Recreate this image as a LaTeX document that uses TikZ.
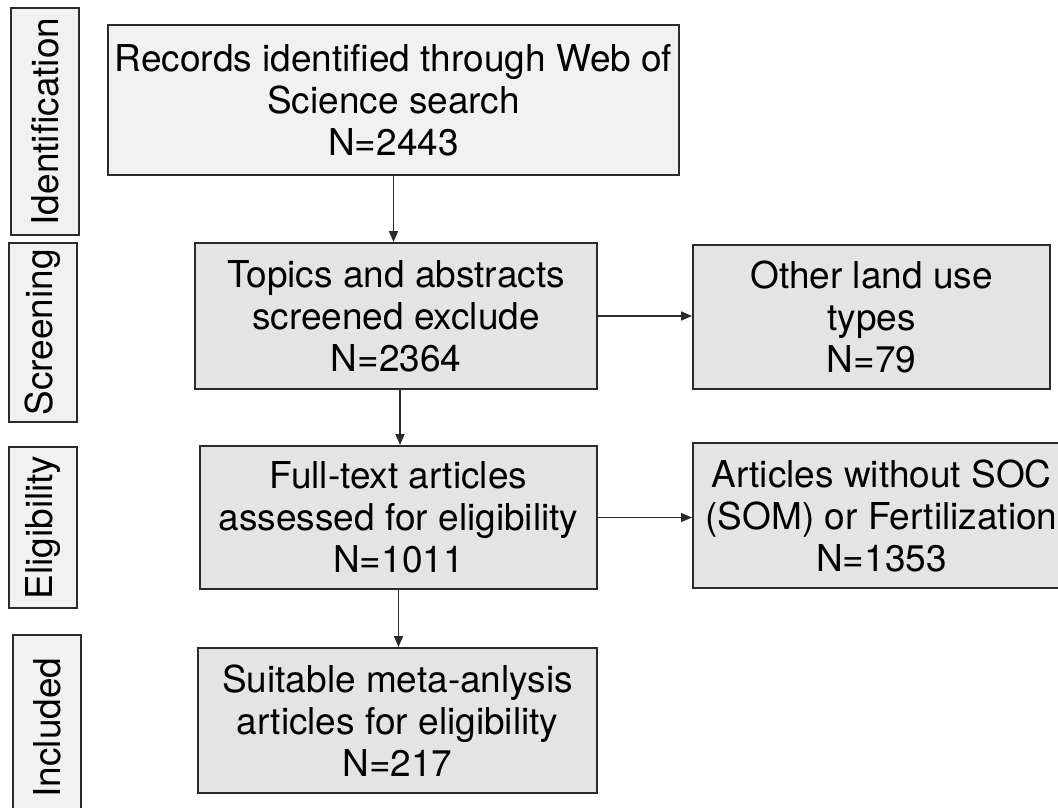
\documentclass[tikz,border=0pt]{standalone}
\usepackage{fontspec}
\setmainfont{TeX Gyre Heros}
\usepackage{xcolor}
\usepackage{tikz}
\usetikzlibrary{calc,arrows.meta,positioning}
\definecolor{lightbg}{HTML}{F1F1F1}
\definecolor{greybg}{HTML}{E4E4E4}
\definecolor{edgec}{HTML}{2B2B2B}
\tikzset{
  ar/.style={-{Triangle[length=11pt,width=9pt]},line width=1.6pt,edgec},
  box/.style={draw=edgec,line width=2pt,fill=greybg,align=center,inner sep=0pt,
    font=\fontsize{37}{42}\selectfont},
  phase/.style={box,fill=lightbg,rotate=90,minimum height=68pt}
}

\begin{document}
\begin{tikzpicture}[x=1pt,y=-1pt]
\useasboundingbox (0,0) rectangle (1058,807);
% phases
\node[phase,minimum width=227pt] (ident) at (45,121.5) {Identification};
\node[phase,minimum width=179pt] (screen) at (43,332.5) {Screening};
\node[phase,minimum width=161pt] (elig) at (43,527.5) {Eligibility};
\node[phase,minimum width=185pt] (incl) at (47,727.5) {Included};
% flow
\node[box,fill=lightbg,minimum width=571pt,minimum height=150pt] (rec) at (393.5,100)
  {Records identified through Web of\\Science search\\N=2443};
\node[box,minimum width=402pt,minimum height=146pt] (topic) at (396,316)
  {Topics and abstracts\\screened exclude\\N=2364};
\node[box,minimum width=357pt,minimum height=144pt] (other) at (871.5,317)
  {Other land use\\types\\N=79};
\node[box,minimum width=397pt,minimum height=143pt] (full) at (398.5,517.5)
  {Full-text articles\\assessed for eligibility\\N=1011};
\node[box,minimum width=377pt,minimum height=145pt] (nosoc) at (881.5,515.5)
  {Articles without SOC\\(SOM) or Fertilization\\N=1353};
\node[box,minimum width=399pt,minimum height=145pt] (suit) at (397.5,720.5)
  {Suitable meta-anlysis\\articles for eligibility\\N=217};
% arrows
\draw[ar] (rec.south) -- (rec.south |- topic.north);
\draw[ar] (topic.east) -- (topic.east -| other.west);
\draw[ar] ([xshift=4pt]topic.south) -- ([xshift=4pt]topic.south |- full.north);
\draw[ar] (full.east) -- (full.east -| nosoc.west);
\draw[ar] (full.south) -- (full.south |- suit.north);
\end{tikzpicture}
\end{document}
